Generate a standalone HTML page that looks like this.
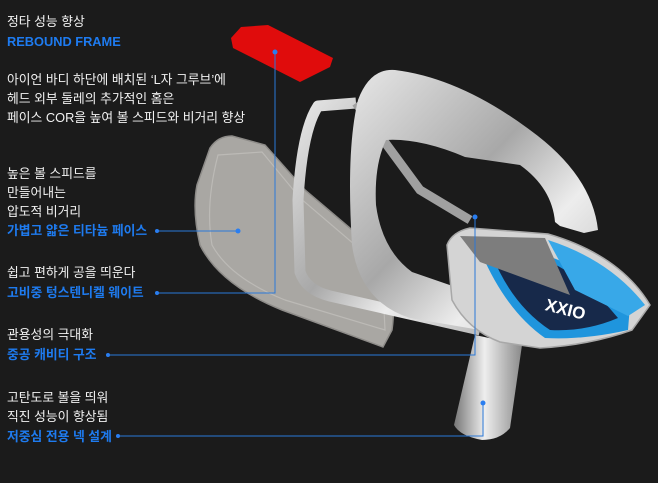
<!DOCTYPE html>
<html><head><meta charset="utf-8"><style>
html,body{margin:0;padding:0;background:#1b1b1b;}
#w{position:relative;width:658px;height:483px;overflow:hidden;background:#1b1b1b;font-family:"Liberation Sans","Noto Sans CJK KR",sans-serif;}
svg{position:absolute;left:0;top:0;}
.t{position:absolute;left:7px;color:#f2f2f2;font-size:12.8px;line-height:19px;white-space:nowrap;}
.b{color:#1e7bf0;font-weight:bold;}
</style></head><body><div id="w">
<svg width="658" height="483" viewBox="0 0 658 483">
<defs>
<linearGradient id="sv" x1="0" y1="0" x2="1" y2="1"><stop offset="0" stop-color="#e8e8e8"/><stop offset=".45" stop-color="#a8a8a8"/><stop offset=".7" stop-color="#ededed"/><stop offset="1" stop-color="#bdbdbd"/></linearGradient>
<linearGradient id="nk" x1="0" y1="0" x2="1" y2="0"><stop offset="0" stop-color="#777"/><stop offset=".45" stop-color="#eee"/><stop offset="1" stop-color="#8a8a8a"/></linearGradient>
</defs>
<!-- red plate -->
<path d="M231,38 L241,27 L268,25 L333,58 L330,67 L300,82 L233,48 Z" fill="#e00c0c"/>
<!-- face plate -->
<path d="M210,148 Q218,136 232,136 L265,145 L305,190 L390,262 Q396,300 392,330 L383,347 L282,310 Q220,285 200,245 Q192,210 197,185 Z" fill="#a9a7a3" stroke="#8e8c89" stroke-width="1.5"/>
<path d="M218,155 L262,152 L300,198 L382,268 L385,330 L285,300 Q230,278 212,245 Q205,205 218,155 Z" fill="none" stroke="#bcbab6" stroke-width="1.2"/>
<!-- middle frame -->
<path d="M356,103 L318,106 Q302,130 298,200 L300,272 Q306,290 330,296 L480,330" fill="none" stroke="url(#sv)" stroke-width="11" stroke-linejoin="round"/>
<path d="M356,103 L420,190 L470,220" fill="none" stroke="#a0a0a0" stroke-width="9"/>
<!-- big frame -->
<path fill-rule="evenodd" fill="url(#sv)" d="M358,100 Q370,68 395,70 Q460,78 530,130 Q592,175 598,230 L584,233 L560,226 L555,222 Q552,188 520,165 L465,157 Q420,138 386,140 Q374,165 376,205 Q382,250 412,272 L470,292 L478,306 L480,330 L410,318 Q360,302 352,245 Q346,150 358,100 Z"/>
<!-- neck -->
<path d="M475,335 L522,345 L510,428 Q500,440 482,440 Q460,436 454,425 Z" fill="url(#nk)"/>
<!-- club head -->
<path d="M447,245 Q452,232 470,228 L548,234 Q620,255 650,305 L632,330 Q590,345 540,348 L500,342 Q468,330 452,300 Z" fill="#d4d4d4" stroke="#a8a8a8" stroke-width="1.5"/>
<path d="M480,250 L545,255 Q590,270 630,305 L628,330 Q585,340 545,338 Q505,310 480,250 Z" fill="#1f95dd"/>
<path d="M492,255 L550,262 Q585,278 618,318 Q585,332 550,330 Q512,305 492,255 Z" fill="#17294a"/>
<path d="M460,236 L545,238 L570,295 L480,262 Z" fill="#7d7d7d"/>
<path d="M548,240 Q610,260 645,305 L628,316 L575,290 Z" fill="#38a8e8"/>
<text x="545" y="315" font-family="Liberation Sans,sans-serif" font-weight="bold" font-size="17" fill="#fff" transform="rotate(14 565 310)">XXIO</text>
<!-- connectors -->
<g stroke="#2a78d8" stroke-width="1" fill="none">
<polyline points="275,52 275,293 157,293"/>
<polyline points="238,231 157,231"/>
<polyline points="475,217 475,355 108,355"/>
<polyline points="483,403 483,436 118,436"/>
</g>
<g fill="#2a7ef0">
<circle cx="275" cy="52" r="2.5"/><circle cx="238" cy="231" r="2.5"/><circle cx="157" cy="231" r="2"/>
<circle cx="157" cy="293" r="2"/><circle cx="108" cy="355" r="2"/><circle cx="475" cy="217" r="2.5"/>
<circle cx="483" cy="403" r="2.5"/><circle cx="118" cy="436" r="2"/>
</g>
</svg>
<div class="t" style="top:12px">정타 성능 향상</div>
<div class="t b" style="top:32px">REBOUND FRAME</div>
<div class="t" style="top:70px">아이언 바디 하단에 배치된 ‘L자 그루브’에</div>
<div class="t" style="top:89px">헤드 외부 둘레의 추가적인 홈은</div>
<div class="t" style="top:108px">페이스 COR을 높여 볼 스피드와 비거리 향상</div>
<div class="t" style="top:164px">높은 볼 스피드를</div>
<div class="t" style="top:183px">만들어내는</div>
<div class="t" style="top:202px">압도적 비거리</div>
<div class="t b" style="top:221px">가볍고 얇은 티타늄 페이스</div>
<div class="t" style="top:263px">쉽고 편하게 공을 띄운다</div>
<div class="t b" style="top:283px">고비중 텅스텐니켈 웨이트</div>
<div class="t" style="top:325px">관용성의 극대화</div>
<div class="t b" style="top:345px">중공 캐비티 구조</div>
<div class="t" style="top:388px">고탄도로 볼을 띄워</div>
<div class="t" style="top:407px">직진 성능이 향상됨</div>
<div class="t b" style="top:427px">저중심 전용 넥 설계</div>
</div></body></html>
